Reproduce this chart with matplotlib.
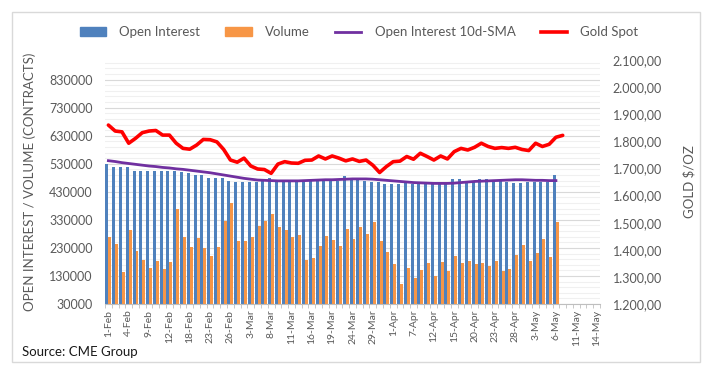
import numpy as np
import pandas as pd
import matplotlib
matplotlib.use('Agg')
import matplotlib.pyplot as plt
from matplotlib.ticker import FixedLocator, FuncFormatter
from matplotlib.patches import Rectangle, Patch
from matplotlib.lines import Line2D

plt.rcParams['font.family'] = ['Lato', 'DejaVu Sans']

# trading days (US holidays 15-Feb and 2-Apr skipped)
days = pd.bdate_range('2021-02-01', '2021-05-14')
days = days[~days.isin(pd.to_datetime(['2021-02-15', '2021-04-02']))]
day_labels = [f'{d.day}-{d.strftime("%b")}' for d in days]

# contracts, 1-Feb .. 6-May
open_interest = [529000, 518000, 518000, 518000, 506000, 506000, 506000, 506000, 506000, 503000,
                 503000, 499000, 497000, 490000, 489000, 479000, 478000, 478000, 467000, 465000,
                 465000, 465000, 465000, 469000, 480000, 469000, 469000, 469000, 469000, 469000,
                 469000, 477000, 469000, 469000, 469000, 485000, 481000, 473000, 469000, 466000,
                 466000, 457000, 457000, 457000, 461000, 457000, 461000, 457000, 457000, 457000,
                 457000, 474000, 474000, 470000, 470000, 477000, 474000, 470000, 470000, 466000,
                 461000, 461000, 466000, 466000, 466000, 466000, 490000]
volume = [268000, 245000, 145000, 293000, 218000, 188000, 160000, 185000, 154000, 178000,
          368000, 270000, 235000, 265000, 228000, 200000, 232000, 327000, 390000, 256000,
          253000, 270000, 307000, 327000, 350000, 303000, 295000, 270000, 277000, 186000,
          193000, 238000, 274000, 257000, 238000, 299000, 263000, 305000, 278000, 324000,
          256000, 217000, 174000, 103000, 160000, 124000, 152000, 176000, 131000, 181000,
          149000, 201000, 176000, 185000, 174000, 176000, 167000, 185000, 149000, 156000,
          206000, 242000, 185000, 213000, 261000, 199000, 322000]
oi_sma = [541000, 538000, 534000, 531000, 528000, 525000, 522000, 520000, 517000, 515000,
          512000, 510000, 507000, 504000, 501000, 498000, 494000, 490000, 486000, 482000,
          478000, 475000, 472000, 471000, 470000, 469000, 469000, 469000, 469000, 470000,
          471000, 472000, 473000, 473000, 474000, 475000, 476000, 476000, 476000, 475000,
          473000, 471000, 469000, 467000, 465000, 463000, 462000, 461000, 460000, 460000,
          460000, 461000, 463000, 465000, 467000, 468000, 469000, 470000, 471000, 472000,
          473000, 473000, 472000, 471000, 471000, 470000, 470000]
# USD/oz, 1-Feb .. 7-May
gold_spot = [1860, 1838, 1835, 1793, 1811, 1832, 1838, 1840, 1823, 1823,
             1793, 1774, 1771, 1786, 1807, 1806, 1798, 1770, 1731, 1723,
             1738, 1709, 1698, 1696, 1682, 1716, 1725, 1720, 1719, 1730,
             1731, 1746, 1735, 1746, 1738, 1728, 1735, 1726, 1731, 1712,
             1685, 1707, 1725, 1727, 1744, 1734, 1756, 1744, 1731, 1746,
             1735, 1762, 1774, 1768, 1778, 1793, 1781, 1774, 1777, 1774,
             1778, 1770, 1766, 1793, 1781, 1789, 1815, 1822]

blue, orange, purple, red = '#4F81BD', '#F79646', '#7030A0', '#FF0000'
txt = '#595959'

fig = plt.figure(figsize=(7.11, 3.9), dpi=100)
ax = fig.add_axes([105/711, 86/390, 495/711, 244/390])

x = np.arange(len(open_interest))
ax.bar(x - 0.22, open_interest, width=0.44, color=blue, zorder=2)
ax.bar(x + 0.22, volume, width=0.44, color=orange, zorder=2)
ax.plot(x, oi_sma, color=purple, lw=2.0, zorder=3)

ax.set_xlim(-0.5, len(days) - 0.5)
ax.set_ylim(30000, 900000)
ax.yaxis.set_major_locator(FixedLocator(np.arange(30000, 830001, 100000)))
ax.yaxis.set_minor_locator(FixedLocator(np.arange(30000, 900000, 20000)))
ax.grid(which='major', axis='y', color='#D9D9D9', lw=0.8)
ax.grid(which='minor', axis='y', color='#F0F0F0', lw=0.8)
ax.set_axisbelow(True)

ticks = np.arange(0, len(days), 3)
ax.set_xticks(ticks)
ax.set_xticklabels([day_labels[i] for i in ticks], rotation=90, fontsize=7.5, color=txt)
ax.xaxis.set_minor_locator(FixedLocator(np.arange(-0.5, len(days), 1)))
ax.tick_params(axis='x', which='major', length=0, pad=4)
ax.tick_params(axis='x', which='minor', length=3, color='#BFBFBF')
ax.tick_params(axis='y', which='both', length=0, pad=9, labelsize=9, labelcolor=txt)
for s in ['top', 'left', 'right']:
    ax.spines[s].set_visible(False)
ax.spines['bottom'].set_color('#BFBFBF')
ax.set_ylabel('OPEN INTEREST / VOLUME (CONTRACTS)', fontsize=9.5, color=txt)
ax.yaxis.set_label_coords(-0.14, 0.5)

ax2 = ax.twinx()
ax2.plot(np.arange(len(gold_spot)), gold_spot, color=red, lw=2.6, solid_capstyle='round')
ax2.set_ylim(1200, 2100)
ax2.yaxis.set_major_locator(FixedLocator(np.arange(1200, 2101, 100)))
ax2.yaxis.set_major_formatter(FuncFormatter(
    lambda v, p: f'{v:,.2f}'.replace(',', ' ').replace('.', ',').replace(' ', '.')))
ax2.tick_params(axis='y', length=0, pad=9, labelsize=9, labelcolor=txt)
for s in ax2.spines.values():
    s.set_visible(False)
ax2.set_ylabel('GOLD $/OZ', fontsize=9.5, color=txt)
ax2.yaxis.set_label_coords(1.168, 0.5)

handles = [Patch(color=blue), Patch(color=orange),
           Line2D([], [], color=purple, lw=2.0), Line2D([], [], color=red, lw=2.6)]
names = ['Open Interest', 'Volume', 'Open Interest 10d-SMA', 'Gold Spot']
leg = fig.legend(handles, names, loc='center', bbox_to_anchor=(0.505, 1 - 32/390), ncol=4,
                 frameon=False, fontsize=9.5, handlelength=2.0, handleheight=0.6,
                 handletextpad=1.0, columnspacing=1.9)
for t in leg.get_texts():
    t.set_color(txt)

fig.text(22/711, 1 - 352/390, 'Source: CME Group', fontsize=9.5, va='center', color='#1a1a1a')
fig.patches.append(Rectangle((12/711, 1 - 362/390), 688/711, 350/390, transform=fig.transFigure,
                             fill=False, edgecolor='#D9D9D9', lw=1))

fig.savefig('out.png', dpi=100)
